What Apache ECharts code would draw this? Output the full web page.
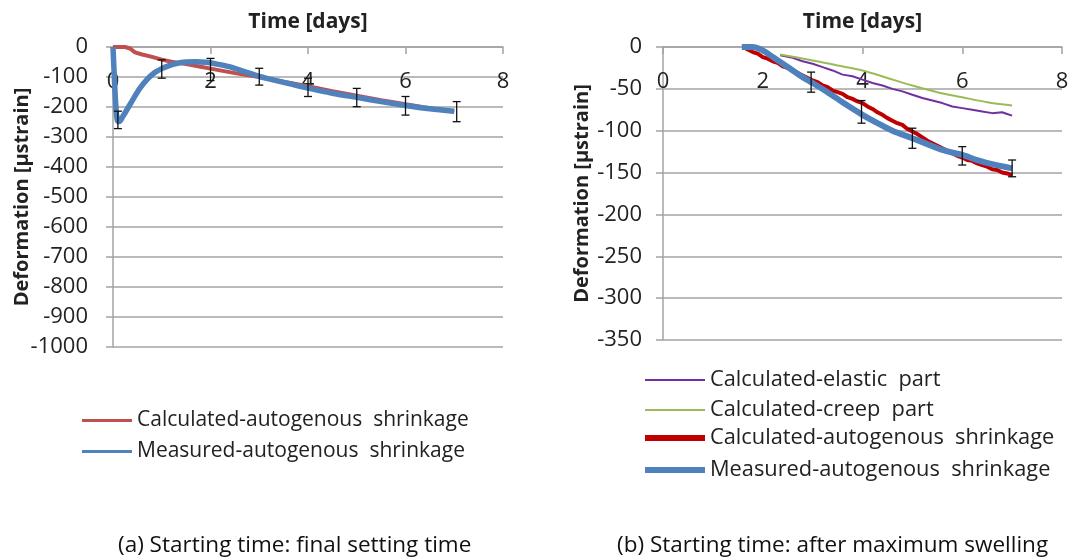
<!DOCTYPE html>
<html>
<head>
<meta charset="utf-8">
<script src="https://cdn.jsdelivr.net/npm/echarts@6/dist/echarts.min.js"></script>
<style>
  html, body { margin: 0; padding: 0; background: #fff; }
  #wrap { position: relative; width: 1070px; height: 560px; }
  #chartA { position: absolute; left: 0; top: 0; width: 540px; height: 560px; }
  #chartB { position: absolute; left: 540px; top: 0; width: 530px; height: 560px; }
</style>
</head>
<body>
<div id="wrap">
  <div id="chartA"></div>
  <div id="chartB"></div>
</div>
<script>
// ---------- (a) starting time: final setting time ----------
const calcA_days = [0, 0.25, 0.35, 0.45, 0.6, 0.8, 1.0, 1.2, 1.5, 1.8, 2.0, 2.5, 3.0, 3.5, 4.0, 4.5, 5.0, 5.5, 6.0, 6.5, 7.0];
const calcA_vals = [0, 0, -5, -18, -25, -33, -42, -49, -57, -66, -72, -87, -100, -116, -131, -147, -162, -177, -191, -204, -215];

const measA_days = [0, 0.03, 0.06, 0.09, 0.13, 0.2, 0.3, 0.42, 0.55, 0.7, 0.85, 1.0, 1.15, 1.3, 1.5, 1.7, 1.9, 2.1, 2.4, 2.7, 3.0, 3.5, 4.0, 4.5, 5.0, 5.5, 6.0, 6.5, 7.0];
const measA_vals = [0, -110, -200, -245, -248, -232, -205, -172, -138, -108, -86, -72, -62, -55, -50, -49, -51, -56, -66, -82, -98, -118, -137, -154, -168, -182, -195, -206, -214];

const errA_days = [0.1, 1, 2, 3, 4, 5, 6, 7.05];
const errA_low  = [-272, -104, -112, -127, -165, -199, -227, -249];
const errA_high = [-214, -43, -38, -71, -104, -138, -165, -182];

// ---------- (b) starting time: after maximum swelling ----------
const elasticB_days = [2.35, 2.6, 2.8, 3.0, 3.2, 3.4, 3.6, 3.8, 4.0, 4.2, 4.4, 4.6, 4.8, 5.0, 5.2, 5.4, 5.6, 5.8, 6.0, 6.2, 6.4, 6.6, 6.8, 6.9, 7.0];
const elasticB_vals = [-10, -13, -17, -20, -24, -28, -33, -35, -39, -43, -46, -50, -53, -57, -61, -64, -67, -71, -73, -75, -77, -79, -78, -80, -82];

const creepB_days = [2.35, 3.0, 3.5, 4.0, 4.5, 5.0, 5.5, 6.0, 6.5, 7.0];
const creepB_vals = [-9, -16, -22, -28, -37, -46, -54, -60, -66, -70];

const calcB_days = [1.6, 1.7, 1.8, 1.9, 2.0, 2.1, 2.2, 2.3, 2.4, 2.5, 2.6, 2.7, 2.8, 2.9, 3.0, 3.1, 3.2, 3.3, 3.4, 3.5, 3.6, 3.7, 3.8, 3.9, 4.0, 4.1, 4.2, 4.3, 4.4, 4.5, 4.6, 4.7, 4.8, 4.9, 5.0, 5.1, 5.2, 5.3, 5.4, 5.5, 5.6, 5.7, 5.8, 5.9, 6.0, 6.1, 6.2, 6.3, 6.4, 6.5, 6.6, 6.7, 6.8, 6.9, 7.0];
const calcB_vals = [0, -3, -6, -8, -12, -14, -17, -19, -23, -25, -28, -31, -34, -37, -40, -42, -46, -48, -52, -54, -56, -60, -62, -65, -67, -71, -74, -78, -81, -85, -88, -91, -93, -98, -101, -104, -108, -112, -115, -118, -121, -124, -127, -130, -132, -135, -136, -139, -141, -143, -146, -147, -150, -151, -153];

const measB_days = [1.58, 1.8, 2.0, 2.2, 2.5, 2.8, 3.0, 3.3, 3.6, 4.0, 4.3, 4.6, 5.0, 5.3, 5.6, 6.0, 6.3, 6.6, 7.0];
const measB_vals = [0, 0, -4, -12, -24, -36, -43, -54, -66, -81, -91, -100, -109, -116, -123, -129, -135, -140, -145];

const errB_days = [2.97, 3.98, 5.0, 6.0, 7.0];
const errB_low  = [-54, -91, -121, -141, -155];
const errB_high = [-30, -64, -97, -119, -135];

const FONT = '"Open Sans", "Liberation Sans", sans-serif';
const TEXT = '#222';
const GRID = '#a3a3a3';

function pairs(xs, ys) { return xs.map((x, i) => [x, ys[i]]); }
function errTriples(xs, lo, hi) { return xs.map((x, i) => [x, lo[i], hi[i]]); }

// vertical error bar with caps
function renderErr(params, api) {
  const x = api.value(0);
  const pLo = api.coord([x, api.value(1)]);
  const pHi = api.coord([x, api.value(2)]);
  const c = 4;
  const st = { stroke: '#111', lineWidth: 1.3 };
  return {
    type: 'group',
    children: [
      { type: 'line', shape: { x1: pLo[0], y1: pLo[1], x2: pHi[0], y2: pHi[1] }, style: st },
      { type: 'line', shape: { x1: pLo[0] - c, y1: pLo[1], x2: pLo[0] + c, y2: pLo[1] }, style: st },
      { type: 'line', shape: { x1: pHi[0] - c, y1: pHi[1], x2: pHi[0] + c, y2: pHi[1] }, style: st }
    ]
  };
}

function axes(yMin, yInterval, yLabelMargin, yNameGap) {
  return {
    xAxis: {
      type: 'value', position: 'top', min: 0, max: 8, interval: 2,
      name: 'Time [days]', nameLocation: 'middle', nameGap: 14,
      nameTextStyle: { fontFamily: FONT, fontWeight: 'bold', fontSize: 21, color: TEXT },
      axisLine: { onZero: false, lineStyle: { color: GRID, width: 1.5 } },
      axisTick: { inside: true, length: 7, lineStyle: { color: GRID, width: 1.5 } },
      axisLabel: { inside: true, margin: 24, fontFamily: FONT, fontSize: 22, color: TEXT },
      splitLine: { show: false }
    },
    yAxis: {
      type: 'value', min: yMin, max: 0, interval: yInterval,
      name: 'Deformation [µstrain]', nameLocation: 'middle', nameGap: yNameGap,
      nameMoveOverlap: false,
      nameTextStyle: { fontFamily: FONT, fontWeight: 'bold', fontSize: 20, color: TEXT },
      axisLine: { show: true, lineStyle: { color: GRID, width: 1.5 } },
      axisTick: { show: true, length: 7, lineStyle: { color: GRID, width: 1.5 } },
      axisLabel: { margin: yLabelMargin, fontFamily: FONT, fontSize: 22, color: TEXT,
        formatter: v => String(v) },
      splitLine: { show: true, lineStyle: { color: GRID, width: 1.5 } }
    }
  };
}

function legendRow(name, top, left, width, thick, color, size) {
  return {
    data: [{ name: name, icon: 'rect', itemStyle: { color: color } }],
    top: top, left: left, padding: 0,
    itemWidth: width, itemHeight: thick,
    selectedMode: false,
    textStyle: { fontFamily: FONT, fontSize: size, color: TEXT }
  };
}

const lineBase = { type: 'line', symbol: 'none', silent: true, animation: false, z: 2 };
const CAPTION_FONT = '22.5px "Liberation Sans Narrow", "Open Sans", sans-serif';

// chart (a)
const chartA = echarts.init(document.getElementById('chartA'), null, { renderer: 'canvas' });
const axA = axes(-1000, 100, 25, 81);
chartA.setOption({
  animation: false,
  grid: { left: 113, top: 47, width: 390, height: 300, outerBoundsMode: 'none', containLabel: false },
  xAxis: axA.xAxis,
  yAxis: axA.yAxis,
  legend: [
    legendRow('Calculated-autogenous  shrinkage', 410, 82, 50, 3, '#C0504D', 21),
    legendRow('Measured-autogenous  shrinkage', 441, 82, 50, 3, '#4F81BD', 21)
  ],
  graphic: [{
    type: 'text', left: 118, top: 534,
    style: { text: '(a) Starting time: final setting time', font: CAPTION_FONT, fill: '#111' }
  }],
  series: [
    Object.assign({}, lineBase, { name: 'Calculated-autogenous  shrinkage', data: pairs(calcA_days, calcA_vals),
      lineStyle: { color: '#C0504D', width: 4 }, itemStyle: { color: '#C0504D' } }),
    Object.assign({}, lineBase, { name: 'Measured-autogenous  shrinkage', data: pairs(measA_days, measA_vals), smooth: 0.3,
      lineStyle: { color: '#4F81BD', width: 5.5 }, itemStyle: { color: '#4F81BD' } }),
    { type: 'custom', name: 'errA', renderItem: renderErr, data: errTriples(errA_days, errA_low, errA_high), z: 5, silent: true }
  ]
});

// chart (b)
const chartB = echarts.init(document.getElementById('chartB'), null, { renderer: 'canvas' });
const axB = axes(-350, 50, 21, 71);
chartB.setOption({
  animation: false,
  grid: { left: 123, top: 47, width: 399, height: 293, outerBoundsMode: 'none', containLabel: false },
  xAxis: axB.xAxis,
  yAxis: axB.yAxis,
  legend: [
    legendRow('Calculated-elastic  part', 369, 105, 60, 2, '#7030A0', 21.8),
    legendRow('Calculated-creep  part', 399, 105, 60, 2, '#9BBB59', 21.8),
    legendRow('Calculated-autogenous  shrinkage', 427, 105, 60, 6, '#C00000', 21.8),
    legendRow('Measured-autogenous  shrinkage', 459, 105, 60, 6, '#4F81BD', 21.8)
  ],
  graphic: [{
    type: 'text', left: 77, top: 534,
    style: { text: '(b) Starting time: after maximum swelling', font: CAPTION_FONT, fill: '#111' }
  }],
  series: [
    Object.assign({}, lineBase, { name: 'Calculated-elastic  part', data: pairs(elasticB_days, elasticB_vals),
      lineStyle: { color: '#7030A0', width: 2 }, itemStyle: { color: '#7030A0' } }),
    Object.assign({}, lineBase, { name: 'Calculated-creep  part', data: pairs(creepB_days, creepB_vals), smooth: 0.3,
      lineStyle: { color: '#9BBB59', width: 2 }, itemStyle: { color: '#9BBB59' } }),
    Object.assign({}, lineBase, { name: 'Calculated-autogenous  shrinkage', data: pairs(calcB_days, calcB_vals),
      lineStyle: { color: '#C00000', width: 4 }, itemStyle: { color: '#C00000' } }),
    Object.assign({}, lineBase, { name: 'Measured-autogenous  shrinkage', data: pairs(measB_days, measB_vals), smooth: 0.3,
      lineStyle: { color: '#4F81BD', width: 6 }, itemStyle: { color: '#4F81BD' } }),
    { type: 'custom', name: 'errB', renderItem: renderErr, data: errTriples(errB_days, errB_low, errB_high), z: 5, silent: true }
  ]
});
</script>
</body>
</html>
